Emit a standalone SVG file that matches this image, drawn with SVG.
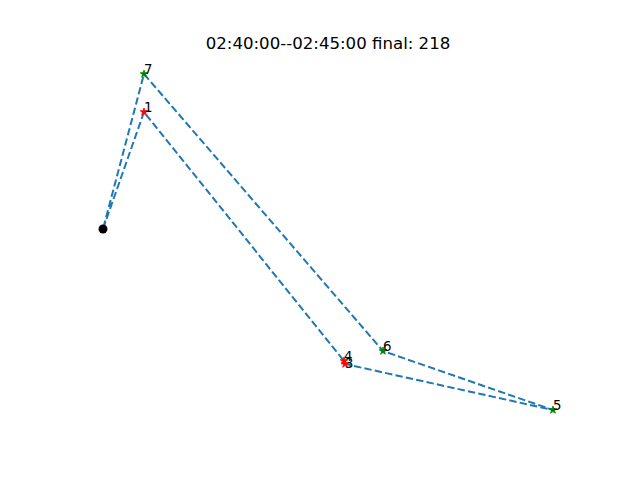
<svg xmlns="http://www.w3.org/2000/svg" width="640" height="480" viewBox="0 0 640 480">
<defs>
<style>
text{font-family:"DejaVu Sans",sans-serif;fill:#000}
.lbl{font-size:13.3px}
.route{fill:none;stroke:#1f77b4;stroke-width:2;stroke-dasharray:7.4 3.2}
.red{fill:#ff0000;stroke:#ff0000;stroke-width:0.8}
.green{fill:#008000;stroke:#008000;stroke-width:0.8}
</style>
<polygon id="star" points="0,-4 0.95,-1.3 3.8,-1.24 1.53,0.5 2.35,3.24 0,1.6 -2.35,3.24 -1.53,0.5 -3.8,-1.24 -0.95,-1.3"/>
</defs>
<rect width="640" height="480" fill="#fff"/>
<text x="328" y="49" font-size="16.6" text-anchor="middle">02:40:00--02:45:00 final: 218</text>
<g id="connectors">
<polyline class="route" points="103,229 144,112 344,361 345,364 553,410 383,351 144,74 103,229"/>
</g>
<g id="start"><circle cx="103" cy="229" r="4.5" fill="#000"/></g>
<g id="n1"><use href="#star" x="144" y="112" class="red"/><text class="lbl" x="144" y="112">1</text></g>
<g id="n4"><use href="#star" x="344" y="361" class="red"/><text class="lbl" x="344" y="361">4</text></g>
<g id="n3"><use href="#star" x="345" y="364" class="red"/><text class="lbl" x="345" y="368">3</text></g>
<g id="n5"><use href="#star" x="553" y="410" class="green"/><text class="lbl" x="553" y="410">5</text></g>
<g id="n6"><use href="#star" x="383" y="351" class="green"/><text class="lbl" x="383" y="351">6</text></g>
<g id="n7"><use href="#star" x="144" y="74" class="green"/><text class="lbl" x="144" y="74">7</text></g>
</svg>
